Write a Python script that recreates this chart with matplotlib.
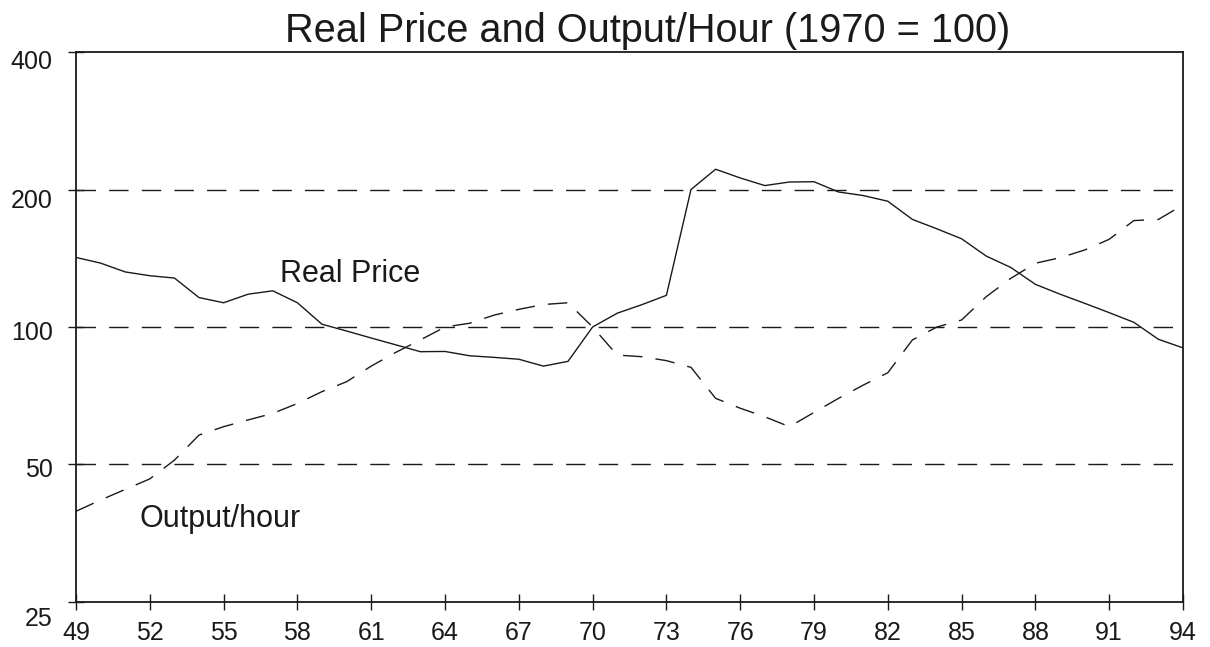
import matplotlib
matplotlib.use("Agg")
import matplotlib.pyplot as plt
from matplotlib.transforms import ScaledTranslation

plt.rcParams['font.family'] = ['Liberation Sans', 'DejaVu Sans']

years = list(range(49, 95))
real_price = [142, 138, 132, 129.5, 128, 116, 113, 118, 120, 113,
              101.4, 98, 94.6, 91.4, 88.3, 88.4, 86.5, 85.8, 85, 82.1,
              84.1, 100, 107.2, 111.9, 117.3, 200, 221.5, 212, 204, 207.7,
              208, 197.5, 194, 188.5, 172, 164, 156, 143, 135, 124,
              118, 112.7, 107.5, 102.4, 94, 90]
output_hour = [39.5, 41.8, 44.1, 46.5, 51.1, 58, 60.5, 62.6, 64.7, 68,
               72.2, 75.9, 82.1, 88, 93.7, 100, 101.9, 106.2, 109.3, 112,
               113, 100, 86.8, 86.1, 84.4, 81.6, 69.8, 66.4, 63.6, 60.5,
               65, 69.8, 74.6, 79.4, 93.7, 100, 103.6, 116.5, 127.8, 137.9,
               141.8, 147.4, 155.6, 171, 172, 185]
y_ticks = [25, 50, 100, 200, 400]
y_tick_labels = ['25', '50', '100', '200', '400']
x_ticks = list(range(49, 95, 3))
grid_levels = [50, 100, 200]
title = 'Real Price and Output/Hour (1970 = 100)'

ink = '#1a1a1a'
W, H = 1210, 647
fig = plt.figure(figsize=(W / 100, H / 100), dpi=100)
ax = fig.add_axes([76 / W, 1 - 602 / H, (1183 - 76) / W, (602 - 52) / H])

ax.set_yscale('log', base=2)
ax.set_xlim(49, 94)
ax.set_ylim(25, 400)

for g in grid_levels:
    ax.axhline(g, color=ink, lw=1.0, dashes=(14, 9.5), zorder=1)

ax.plot(years, real_price, color=ink, lw=1.0, zorder=3)
ax.plot(years, output_hour, color=ink, lw=1.0, dashes=(14, 9.5), zorder=3)

ax.set_yticks(y_ticks)
ax.set_yticklabels(y_tick_labels)
ax.yaxis.set_minor_locator(matplotlib.ticker.NullLocator())
ax.set_xticks(x_ticks)
ax.set_xticklabels([str(x) for x in x_ticks])

ax.tick_params(axis='both', direction='inout', length=12, width=1.0, color=ink,
               labelsize=18, labelcolor=ink)
ax.tick_params(axis='y', pad=10.9)
ax.tick_params(axis='x', pad=7.5)

for s in ax.spines.values():
    s.set_color(ink)
    s.set_linewidth(1.3)

# vertical offsets of y tick labels (pixels, downward)
offsets = {'25': 14, '50': 3, '100': 3, '200': 9, '400': 8}
for lab in ax.get_yticklabels():
    dy = offsets.get(lab.get_text(), 0)
    lab.set_transform(lab.get_transform() + ScaledTranslation(0, -dy / 100, fig.dpi_scale_trans))

ax.text(57.29, 125.5, 'Real Price', fontsize=22, color=ink, ha='left', va='baseline')
ax.text(51.6, 36.5, 'Output/hour', fontsize=22, color=ink, ha='left', va='baseline')

fig.text(648 / W, 1 - 42 / H, title, fontsize=28.6, color=ink, ha='center', va='baseline')

fig.savefig('out.png', dpi=100)
